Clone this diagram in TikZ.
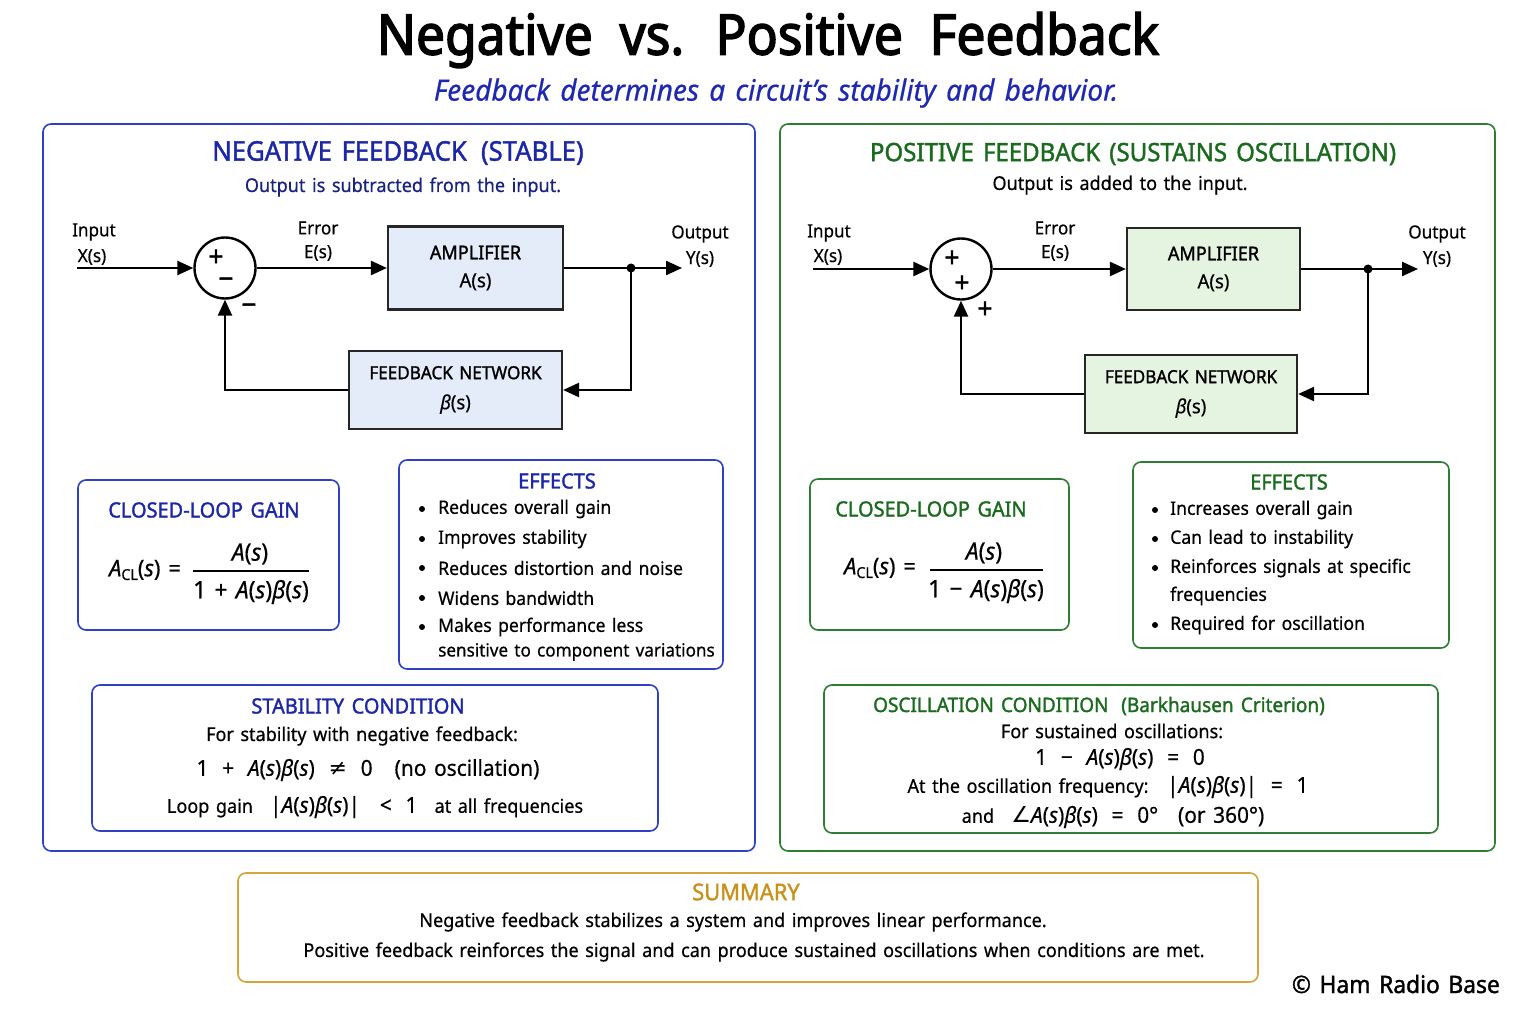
\documentclass[tikz,border=0pt]{standalone}
\usepackage{fontspec}
\setmainfont{Noto Sans}[FakeStretch=0.95, WordSpace=1.4, FakeBold=0.5]
\newfontfamily\medfont{Noto Sans}[FakeStretch=0.95, WordSpace=1.45, FakeBold=1.5]
\newfontfamily\titlefont{Noto Sans}[FakeStretch=0.92, WordSpace=2.0, FakeBold=2.6]
\newfontfamily\symfont{DejaVu Sans}
\usetikzlibrary{arrows.meta}
\definecolor{hblue}{HTML}{1C27A8}
\definecolor{bblue}{HTML}{2E40C4}
\definecolor{navy}{HTML}{1A237E}
\definecolor{subblue}{HTML}{1E28B0}
\definecolor{hgreen}{HTML}{1B6B1F}
\definecolor{bgreen}{HTML}{2E7D32}
\definecolor{fillblue}{HTML}{E4ECFA}
\definecolor{fillgreen}{HTML}{E5F3E1}
\definecolor{gold}{HTML}{D4A63A}
\definecolor{goldtxt}{HTML}{C8921A}
\newcommand\fsz[1]{\fontsize{#1}{#1}\selectfont}
\newcommand\myA{\textit{A}(\textit{s})}
\newcommand\myB{\textit{β}(\textit{s})}
\newcommand\myAB{\myA\myB}
\newcommand\myACL{\textit{A}\raisebox{-0.3ex}{\fsz{15}CL}(\textit{s})}
\newcommand\myneq{{\symfont ≠}}
\newcommand\myang{{\symfont ∠}}
\tikzset{
  txt/.style={inner sep=0pt, font=\fsz{19}},
  eff/.style={inner sep=0pt, font=\fsz{18.5}},
  lbl/.style={inner sep=0pt, font=\fsz{18}},
  hd/.style={inner sep=0pt, font=\medfont\fsz{21}},
  sgn/.style={inner sep=0pt, font=\medfont\fsz{28}},
  bul/.style={circle, fill=black, inner sep=0pt, minimum size=6pt},
  panelB/.style={draw=bblue, line width=1.6pt, rounded corners=8pt},
  panelG/.style={draw=bgreen, line width=1.6pt, rounded corners=8pt},
  boxB/.style={draw=bblue, line width=1.6pt, rounded corners=8pt, inner sep=0pt},
  boxG/.style={draw=bgreen, line width=1.6pt, rounded corners=8pt, inner sep=0pt},
  blk/.style={draw=black!85, line width=2.2pt, inner sep=0pt, align=center},
  sumc/.style={draw=black, circle, line width=2.4pt, minimum size=61pt, inner sep=0pt},
  conn/.style={line width=2.4pt, -{Triangle[length=16pt,width=14pt]}},
}
\begin{document}
\begin{tikzpicture}[x=1pt,y=-1pt]
\useasboundingbox (0,0) rectangle (1536,1024);
\fill[white] (0,0) rectangle (1536,1024);
% title
\node[inner sep=0pt, font=\titlefont\fsz{56}] (title) at (768,40) {Negative vs. Positive Feedback};
\node[inner sep=0pt, font=\fsz{29.5}\itshape, text=subblue] (subtitle) at (776,93) {Feedback determines a circuit’s stability and behavior.};

% panels
\draw[panelB] (43,124) rectangle (755,851);
\draw[panelG] (780,124) rectangle (1495,851);

% ===== LEFT =====
\node[inner sep=0pt, font=\medfont\fsz{27}, text=hblue] (hL) at (398,153) {NEGATIVE FEEDBACK\, (STABLE)};
\node[txt, text=navy] (sL) at (403,187) {Output is subtracted from the input.};

\node[lbl] (inLa) at (94,232) {Input};
\node[lbl] (inLb) at (92,257) {X(s)};
\coordinate (inL) at (77,268);
\node[sumc] (sumL) at (225,268) {};
\node[sgn] (pL1) at (216,258) {+};
\node[sgn] (mL1) at (226,283) {−};
\node[sgn] (mL2) at (249,309) {−};
\node[lbl] (erLa) at (318,228) {Error};
\node[lbl] (erLb) at (318,253) {E(s)};
\node[blk, fill=fillblue, minimum width=175pt, minimum height=83pt] (ampL) at (475.5,268) {\medfont\fsz{19}AMPLIFIER\\[13pt]\fsz{19.5}A(s)};
\node[lbl] (outLa) at (700,234) {Output};
\node[lbl] (outLb) at (700,259) {Y(s)};
\coordinate (outL) at (682,268);
\coordinate (dotL) at (631,268);
\node[blk, fill=fillblue, minimum width=213pt, minimum height=78pt] (fbL) at (455.5,390) {\medfont\fsz{18}FEEDBACK NETWORK\\[14pt]\fsz{19.5}\textit{β}(s)};

\draw[conn] (inL) -- (sumL.west);
\draw[conn] (sumL.east) -- (ampL.west);
\draw[conn] (ampL.east) -- (outL);
\fill (dotL) circle (4.5pt);
\draw[conn] (dotL) |- (fbL.east);
\draw[conn] (fbL.west) -| (sumL.south);

% closed-loop gain
\node[boxB, minimum width=261pt, minimum height=150pt] (clL) at (208.5,555) {};
\node[hd, text=hblue] (clLh) at (204,510) {CLOSED-LOOP GAIN};
\node[inner sep=0pt, font=\fsz{23}] (clLa) at (145,570) {\myACL\ =};
\node[inner sep=0pt, font=\fsz{24}] (clLn) at (250,554) {\myA};
\node[inner sep=0pt, font=\fsz{24}] (clLd) at (251,592) {1 + \myAB};
\coordinate (fLa) at (193,571); \coordinate (fLb) at (309,571);
\draw[line width=1.4pt] (fLa) -- (fLb);

% effects
\node[boxB, minimum width=324pt, minimum height=209pt] (efL) at (561,564.5) {};
\node[hd, text=hblue] (efLh) at (557,481) {EFFECTS};
\foreach \i/\y/\t in {1/509/Reduces overall gain, 2/539/Improves stability, 3/568/Reduces distortion and noise, 4/598/Widens bandwidth, 5/627/Makes performance less}{
  \node[bul] (efLb\i) at (422,\y) {};
  \node[eff, anchor=west] (efLt\i) at (438,\y) {\t};
}
\node[eff, font=\fsz{18}, anchor=west] (efLt6) at (438,652) {sensitive to component variations};

% stability condition
\node[boxB, minimum width=566pt, minimum height=146pt] (stL) at (375,758) {};
\node[hd, text=hblue] (stLh) at (358,706) {STABILITY CONDITION};
\node[txt] (stL1) at (362,736) {For stability with negative feedback:};
\node[inner sep=0pt, font=\fsz{22}] (stL2) at (368,770) {1\; +\; \myAB\; \myneq\; 0\quad (no oscillation)};
\node[txt] (stL3) at (375,807) {Loop gain\;\; {\fsz{22}|\myAB|\;\; <\; 1}\;\; at all frequencies};

% ===== RIGHT =====
\node[inner sep=0pt, font=\medfont\fsz{25.3}, text=hgreen] (hR) at (1133,154) {POSITIVE FEEDBACK (SUSTAINS OSCILLATION)};
\node[txt] (sR) at (1120,185) {Output is added to the input.};

\node[lbl] (inRa) at (829,233) {Input};
\node[lbl] (inRb) at (828,257) {X(s)};
\coordinate (inR) at (813,269);
\node[sumc] (sumR) at (961,269) {};
\node[sgn] (pR1) at (952,259) {+};
\node[sgn] (pR2) at (962,284) {+};
\node[sgn] (pR3) at (985,310) {+};
\node[lbl] (erRa) at (1055,228) {Error};
\node[lbl] (erRb) at (1055,253) {E(s)};
\node[blk, fill=fillgreen, minimum width=173pt, minimum height=82pt] (ampR) at (1213.5,269) {\medfont\fsz{19}AMPLIFIER\\[13pt]\fsz{19.5}A(s)};
\node[lbl] (outRa) at (1437,234) {Output};
\node[lbl] (outRb) at (1437,259) {Y(s)};
\coordinate (outR) at (1418,269);
\coordinate (dotR) at (1368,269);
\node[blk, fill=fillgreen, minimum width=212pt, minimum height=78pt] (fbR) at (1191,394) {\medfont\fsz{18}FEEDBACK NETWORK\\[14pt]\fsz{19.5}\textit{β}(s)};

\draw[conn] (inR) -- (sumR.west);
\draw[conn] (sumR.east) -- (ampR.west);
\draw[conn] (ampR.east) -- (outR);
\fill (dotR) circle (4.5pt);
\draw[conn] (dotR) |- (fbR.east);
\draw[conn] (fbR.west) -| (sumR.south);

% closed-loop gain
\node[boxG, minimum width=259pt, minimum height=151pt] (clR) at (939.5,554.5) {};
\node[hd, text=hgreen] (clRh) at (931,509) {CLOSED-LOOP GAIN};
\node[inner sep=0pt, font=\fsz{23}] (clRa) at (880,568) {\myACL\ =};
\node[inner sep=0pt, font=\fsz{24}] (clRn) at (984,553) {\myA};
\node[inner sep=0pt, font=\fsz{24}] (clRd) at (986,591) {1 − \myAB};
\coordinate (fRa) at (930,570); \coordinate (fRb) at (1043,570);
\draw[line width=1.4pt] (fRa) -- (fRb);

% effects
\node[boxG, minimum width=316pt, minimum height=186pt] (efR) at (1291,555) {};
\node[hd, text=hgreen] (efRh) at (1289,482) {EFFECTS};
\foreach \i/\y/\t in {1/510/Increases overall gain, 2/539/Can lead to instability, 3/568/Reinforces signals at specific, 5/625/Required for oscillation}{
  \node[bul] (efRb\i) at (1155,\y) {};
  \node[eff, anchor=west] (efRt\i) at (1170,\y) {\t};
}
\node[eff, anchor=west] (efRt4) at (1170,596) {frequencies};

% oscillation condition
\node[boxG, minimum width=614pt, minimum height=148pt] (ocR) at (1131,759) {};
\node[hd, font=\medfont\fsz{20}, text=hgreen] (ocRh) at (1099,706) {OSCILLATION CONDITION\; (Barkhausen Criterion)};
\node[txt] (ocR1) at (1112,731) {For sustained oscillations:};
\node[inner sep=0pt, font=\fsz{22}] (ocR2) at (1120,759) {1\; −\; \myAB\; =\; 0};
\node[txt] (ocR3) at (1108,787) {At the oscillation frequency:\;\; {\fsz{22}|\myAB|\; =\; 1}};
\node[txt] (ocR4) at (1113,817) {and\;\; {\fsz{22}\myang\myAB\; =\; 0°\;\; (or 360°)}};

% ===== SUMMARY =====
\node[draw=gold, line width=1.6pt, rounded corners=8pt, inner sep=0pt, minimum width=1020pt, minimum height=109pt] (sumbox) at (748,927.5) {};
\node[inner sep=0pt, font=\medfont\fsz{23}, text=goldtxt] (sumh) at (746,892) {SUMMARY};
\node[txt] (sum1) at (733,922) {Negative feedback stabilizes a system and improves linear performance.};
\node[txt] (sum2) at (754,952) {Positive feedback reinforces the signal and can produce sustained oscillations when conditions are met.};

\node[inner sep=0pt, font=\medfont\fsz{24}, anchor=east] (copy) at (1500,984) {© Ham Radio Base};
\end{tikzpicture}
\end{document}
